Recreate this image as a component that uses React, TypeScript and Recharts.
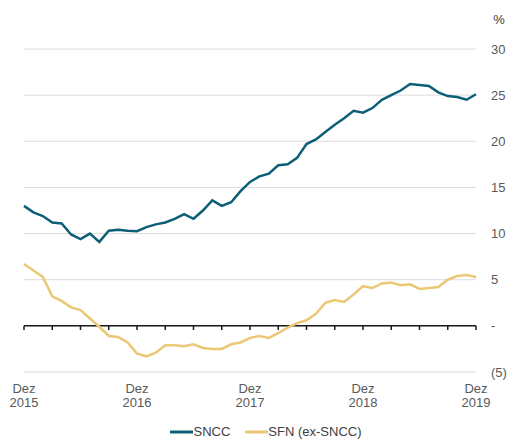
import React from 'react';
import { LineChart, Line, XAxis, YAxis, CartesianGrid, Legend, ReferenceLine } from 'recharts';

const months = [
  'Dez 2015',
  'Jan 2016', 'Fev 2016', 'Mar 2016', 'Abr 2016', 'Mai 2016', 'Jun 2016', 'Jul 2016', 'Ago 2016', 'Set 2016', 'Out 2016', 'Nov 2016', 'Dez 2016',
  'Jan 2017', 'Fev 2017', 'Mar 2017', 'Abr 2017', 'Mai 2017', 'Jun 2017', 'Jul 2017', 'Ago 2017', 'Set 2017', 'Out 2017', 'Nov 2017', 'Dez 2017',
  'Jan 2018', 'Fev 2018', 'Mar 2018', 'Abr 2018', 'Mai 2018', 'Jun 2018', 'Jul 2018', 'Ago 2018', 'Set 2018', 'Out 2018', 'Nov 2018', 'Dez 2018',
  'Jan 2019', 'Fev 2019', 'Mar 2019', 'Abr 2019', 'Mai 2019', 'Jun 2019', 'Jul 2019', 'Ago 2019', 'Set 2019', 'Out 2019', 'Nov 2019', 'Dez 2019',
];

const sncc = [
  13.0, 12.3, 11.9, 11.2, 11.1, 9.9, 9.4, 10.0, 9.1, 10.3, 10.4, 10.3, 10.25,
  10.7, 11.0, 11.2, 11.6, 12.1, 11.6, 12.5, 13.6, 13.0, 13.4, 14.6, 15.6,
  16.2, 16.5, 17.4, 17.5, 18.2, 19.7, 20.2, 21.0, 21.8, 22.5, 23.3, 23.1,
  23.6, 24.5, 25.0, 25.5, 26.2, 26.1, 26.0, 25.3, 24.9, 24.8, 24.5, 25.1,
];

const sfn = [
  6.7, 6.0, 5.3, 3.2, 2.7, 2.0, 1.7, 0.8, -0.1, -1.1, -1.2, -1.8, -3.0,
  -3.3, -2.9, -2.1, -2.1, -2.2, -2.0, -2.4, -2.5, -2.5, -2.0, -1.8, -1.3,
  -1.1, -1.3, -0.8, -0.2, 0.3, 0.6, 1.3, 2.5, 2.8, 2.6, 3.4, 4.3,
  4.1, 4.6, 4.7, 4.4, 4.5, 4.0, 4.1, 4.2, 5.0, 5.4, 5.5, 5.3,
];

const yearTicks = ['Dez 2015', 'Dez 2016', 'Dez 2017', 'Dez 2018', 'Dez 2019'];
const quarterTicks = [
  'Dez 2015', 'Mar 2016', 'Jun 2016', 'Set 2016', 'Dez 2016', 'Mar 2017', 'Jun 2017', 'Set 2017', 'Dez 2017',
  'Mar 2018', 'Jun 2018', 'Set 2018', 'Dez 2018', 'Mar 2019', 'Jun 2019', 'Set 2019', 'Dez 2019',
];
const yTicks = [-5, 0, 5, 10, 15, 20, 25, 30];

const seriesNames = { sncc: 'SNCC', sfn: 'SFN (ex-SNCC)' };
const colors = { sncc: '#0d5f78', sfn: '#ebc876' };

const data = months.map((m, i) => ({ month: m, sncc: sncc[i], sfn: sfn[i] }));

const FONT = 'Arial, "Liberation Sans", sans-serif';

const XTick = (props: any) => {
  const { x, y, payload } = props;
  const [mon, year] = String(payload.value).split(' ');
  return (
    <text x={x} y={y} textAnchor="middle" fill="#595959" fontSize={13} fontFamily={FONT}>
      <tspan x={x} dy={19}>{mon}</tspan>
      <tspan x={x} dy={14}>{year}</tspan>
    </text>
  );
};

const fmtY = (v: number) => (v === 0 ? '-' : v < 0 ? `(${Math.abs(v)})` : String(v));

const LegendContent = () => (
  <div style={{ display: 'flex', justifyContent: 'center', gap: 15, paddingTop: 7, fontFamily: FONT, fontSize: 13, color: '#404040' }}>
    {(['sncc', 'sfn'] as const).map(k => (
      <div key={k} style={{ display: 'flex', alignItems: 'center' }}>
        <svg width={23} height={4}><line x1={0} y1={2} x2={23} y2={2} stroke={colors[k]} strokeWidth={3} /></svg>
        <span>{seriesNames[k]}</span>
      </div>
    ))}
  </div>
);

export default function App() {
  return (
    <div style={{ position: 'absolute', top: 0, left: 0, background: '#fff' }}>
      <LineChart width={508} height={439} data={data} margin={{ top: 49, right: 0, bottom: 0, left: 24 }}>
        <CartesianGrid vertical={false} stroke="#dcdcdc" />
        <XAxis
          dataKey="month"
          ticks={yearTicks}
          interval={0}
          tick={<XTick />}
          tickLine={false}
          axisLine={false}
          tickSize={0}
          height={45}
        />
        <YAxis
          orientation="right"
          domain={[-5, 30]}
          ticks={yTicks}
          tickFormatter={fmtY}
          tickLine={false}
          axisLine={false}
          tickSize={0}
          tickMargin={15}
          width={32}
          tick={{ fill: '#595959', fontSize: 13, fontFamily: FONT, textAnchor: 'start' }}
          label={{ value: '%', position: 'top', offset: 25, dx: 7, fill: '#404040', fontSize: 13, fontFamily: FONT }}
        />
        <ReferenceLine y={0} stroke="#1a1a1a" strokeWidth={1.5} />
        {quarterTicks.map(q => (
          <ReferenceLine key={q} segment={[{ x: q, y: 0 }, { x: q, y: -0.45 }]} stroke="#1a1a1a" strokeWidth={1.5} />
        ))}
        <Line type="linear" dataKey="sfn" name={seriesNames.sfn} stroke={colors.sfn} strokeWidth={2.5} dot={false} isAnimationActive={false} />
        <Line type="linear" dataKey="sncc" name={seriesNames.sncc} stroke={colors.sncc} strokeWidth={2.5} dot={false} isAnimationActive={false} />
        <Legend verticalAlign="bottom" content={<LegendContent />} wrapperStyle={{ height: 22 }} />
      </LineChart>
    </div>
  );
}
